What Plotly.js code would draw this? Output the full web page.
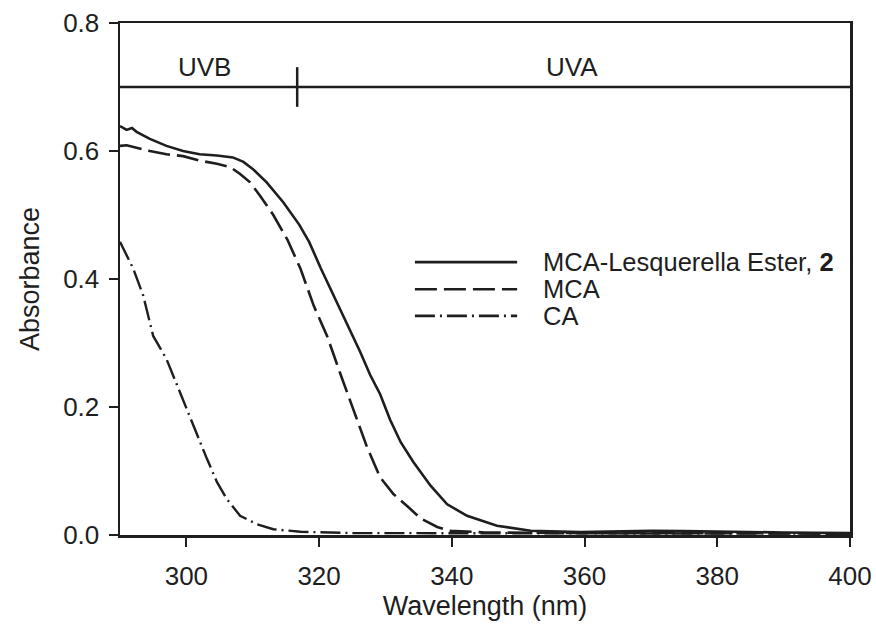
<!DOCTYPE html>
<html>
<head>
<meta charset="utf-8">
<script src="https://cdn.plot.ly/plotly-3.0.1.min.js"></script>
<style>html,body{margin:0;padding:0;background:#fff;}#chart{width:876px;height:625px;}</style>
</head>
<body>
<div id="chart"></div>
<script>
// MCA-Lesquerella Ester, 2 (solid)
const esterX = [290, 291, 291.8, 292.5, 294.5, 297, 299.5, 302, 304.6, 307, 308.6, 310, 312.1, 314.6, 317, 318.5, 320.2, 323.2, 326.2, 327.7, 329.2, 330.7, 332.3, 334.2, 336.8, 339.3, 342.3, 346.8, 351.9, 359.4, 365, 370, 375, 380, 390, 400];
const esterY = [0.639, 0.633, 0.636, 0.630, 0.619, 0.608, 0.600, 0.595, 0.593, 0.590, 0.583, 0.572, 0.551, 0.520, 0.485, 0.458, 0.418, 0.353, 0.286, 0.250, 0.220, 0.180, 0.145, 0.114, 0.077, 0.048, 0.030, 0.0145, 0.0067, 0.0045, 0.006, 0.0065, 0.006, 0.005, 0.004, 0.003];
// MCA (dashed)
const mcaX = [290, 291, 294.5, 297, 299.5, 302, 304.6, 306.6, 308.1, 309.6, 311.1, 313.1, 315.2, 317.2, 319.2, 321.2, 323.2, 325.2, 327.2, 329.2, 331.2, 333.3, 335.3, 337.8, 339.8, 345, 360, 380, 400];
const mcaY = [0.608, 0.609, 0.600, 0.595, 0.592, 0.585, 0.580, 0.575, 0.564, 0.551, 0.530, 0.500, 0.462, 0.416, 0.358, 0.311, 0.252, 0.195, 0.138, 0.090, 0.064, 0.045, 0.026, 0.0125, 0.0065, 0.004, 0.003, 0.003, 0.002];
// CA (dash-dot)
const caX = [290, 290.3, 292, 293.5, 295, 297, 299, 301, 303.1, 304.6, 306.1, 308.1, 310.6, 313.1, 317.2, 325, 340, 360, 380, 400];
const caY = [0.458, 0.452, 0.416, 0.374, 0.311, 0.275, 0.223, 0.171, 0.119, 0.083, 0.056, 0.030, 0.017, 0.009, 0.005, 0.003, 0.003, 0.002, 0.002, 0.002];

const legendNames = ['MCA-Lesquerella Ester, <b>2</b>', 'MCA', 'CA'];
const xTicks = [300, 320, 340, 360, 380, 400];
const yTicks = [0.0, 0.2, 0.4, 0.6, 0.8];
const regionLabels = ['UVB', 'UVA'];
const regionLabelX = [302.8, 358.1];
const uvBoundary = 316.7;
const regionLineY = 0.7;

const FONT = 'Liberation Sans, Arial, Helvetica, sans-serif';
const INK = '#1e1e1e';
const dashes = ['solid', '22px,7px', '20px,5px,2px,5px'];

const traces = [
  {x: esterX, y: esterY, name: legendNames[0], mode: 'lines', line: {color: INK, width: 2.6, dash: dashes[0]}},
  {x: mcaX, y: mcaY, name: legendNames[1], mode: 'lines', line: {color: INK, width: 2.6, dash: dashes[1]}},
  {x: caX, y: caY, name: legendNames[2], mode: 'lines', line: {color: INK, width: 2.4, dash: dashes[2]}}
];

const shapes = [
  {type: 'line', xref: 'x', yref: 'y', x0: 290, x1: 400, y0: regionLineY, y1: regionLineY, line: {color: INK, width: 2.5}},
  {type: 'line', xref: 'x', yref: 'y', x0: uvBoundary, x1: uvBoundary, y0: regionLineY - 0.031, y1: regionLineY + 0.031, line: {color: INK, width: 2.5}}
];
const annotations = [];
regionLabels.forEach((t, i) => annotations.push({
  text: t, x: regionLabelX[i], y: 0.731, xref: 'x', yref: 'y', showarrow: false,
  font: {family: FONT, size: 26, color: INK}, xanchor: 'center', yanchor: 'middle'
}));
const legY = [0.533, 0.480, 0.428];
legendNames.forEach((n, i) => {
  shapes.push({type: 'line', xref: 'paper', yref: 'paper', x0: 0.404, x1: 0.544, y0: legY[i], y1: legY[i],
    line: {color: INK, width: 2.6, dash: dashes[i]}});
  annotations.push({text: n, xref: 'paper', yref: 'paper', x: 0.577, y: legY[i], showarrow: false,
    xanchor: 'left', yanchor: 'middle', font: {family: FONT, size: 25.5, color: INK}});
});

const layout = {
  width: 876, height: 625,
  margin: {l: 120, r: 26, t: 23, b: 90},
  paper_bgcolor: '#fff', plot_bgcolor: '#fff',
  showlegend: false,
  font: {family: FONT, color: INK, size: 26},
  xaxis: {
    range: [290, 400], tickvals: xTicks, ticktext: xTicks.map(String),
    ticks: 'outside', ticklen: 9, tickwidth: 2, tickcolor: INK,
    showline: true, linewidth: 2.5, linecolor: INK, mirror: true,
    showgrid: false, zeroline: false, ticklabelstandoff: 7,
    tickfont: {family: FONT, size: 26, color: INK},
    title: {text: 'Wavelength (nm)', font: {family: FONT, size: 27, color: INK}, standoff: 5}
  },
  yaxis: {
    range: [0, 0.8], tickvals: yTicks, ticktext: yTicks.map(v => v.toFixed(1)),
    ticks: 'outside', ticklen: 9, tickwidth: 2, tickcolor: INK,
    showline: true, linewidth: 2.5, linecolor: INK, mirror: true,
    showgrid: false, zeroline: false, ticklabelstandoff: 4,
    tickfont: {family: FONT, size: 26, color: INK},
    title: {text: 'Absorbance', font: {family: FONT, size: 27, color: INK}, standoff: 16}
  },
  shapes: shapes,
  annotations: annotations
};

Plotly.newPlot('chart', traces, layout, {displayModeBar: false, staticPlot: true});
</script>
</body>
</html>
